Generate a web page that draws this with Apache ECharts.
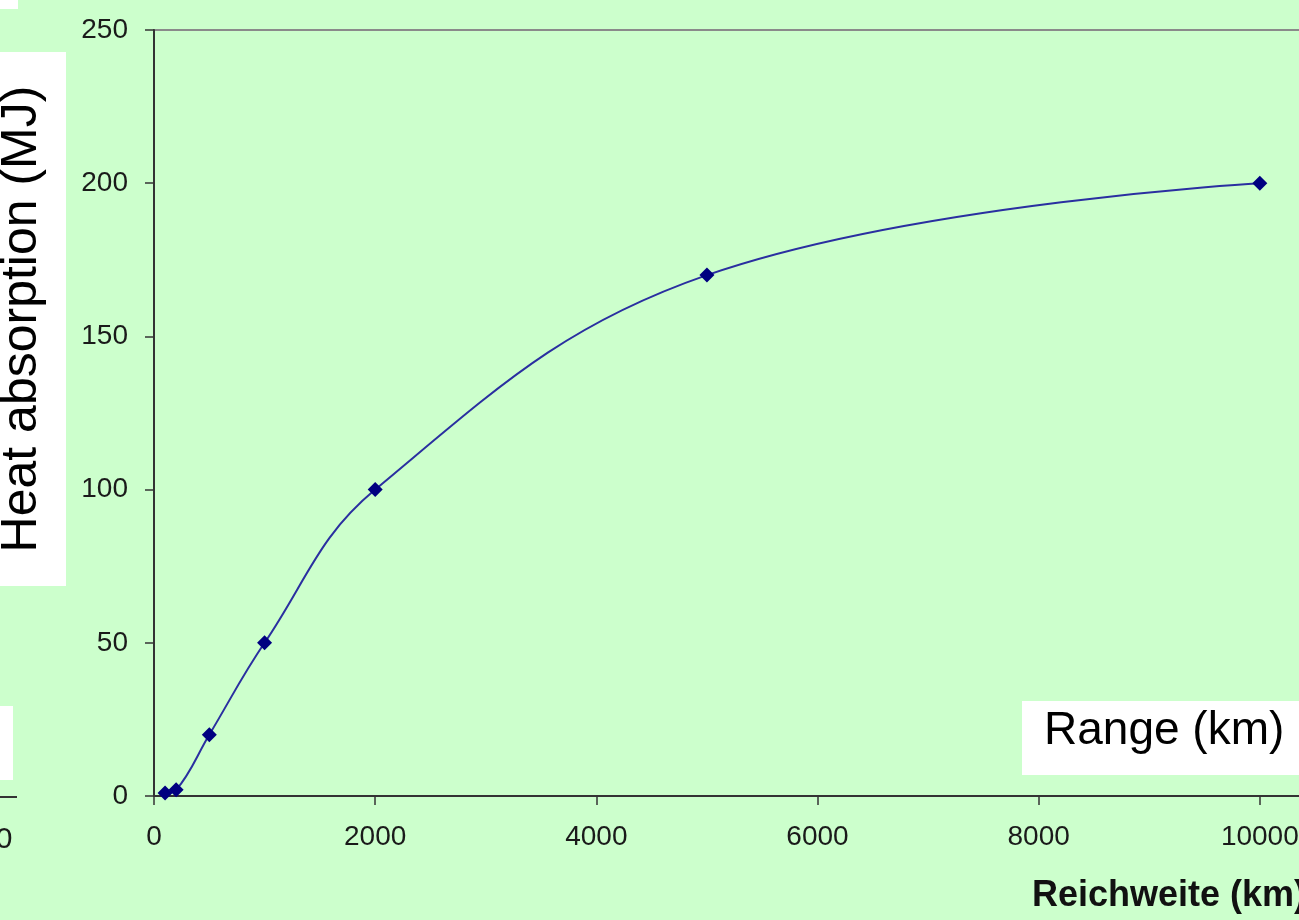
<!DOCTYPE html>
<html>
<head>
<meta charset="utf-8">
<title>Heat absorption vs range</title>
<script src="https://cdn.jsdelivr.net/npm/echarts@6/dist/echarts.min.js"></script>
<style>
  html, body { margin: 0; padding: 0; background: #CCFFCC; }
  #chart { width: 1299px; height: 920px; }
</style>
</head>
<body>
<div id="chart"></div>
<script>
// Range (km) and heat absorbed (MJ)
const rangeKm = [100, 200, 500, 1000, 2000, 5000, 10000];
const heatMJ = [1, 2, 20, 50, 100, 170, 200];

const yTicks = [0, 50, 100, 150, 200, 250];
const xTicks = [0, 2000, 4000, 6000, 8000, 10000, 12000];

const yTitle = 'Heat absorption (MJ)';
const xTitleEn = 'Range (km)';
const xTitleDe = 'Reichweite (km)';

const points = rangeKm.map((x, i) => [x, heatMJ[i]]);
const FONT = '"Liberation Sans", Arial, sans-serif';

const chart = echarts.init(document.getElementById('chart'), null, { renderer: 'canvas' });

chart.setOption({
  backgroundColor: '#CCFFCC',
  animation: false,
  grid: {
    left: 154, top: 30, bottom: 124, right: -182,
    containLabel: false, outerBoundsMode: 'none',
    show: true, backgroundColor: 'transparent',
    borderColor: '#8a8a8a', borderWidth: 2
  },
  xAxis: {
    type: 'value',
    min: xTicks[0], max: xTicks[xTicks.length - 1], interval: 2000,
    axisLine: { show: true, onZero: false, lineStyle: { color: '#333333', width: 2 } },
    axisTick: { show: true, length: 9, lineStyle: { color: '#333333', width: 1.5 } },
    axisLabel: { margin: 27, fontSize: 28, color: '#1a1a1a', fontFamily: FONT,
      formatter: v => String(v) },
    splitLine: { show: false }
  },
  yAxis: {
    type: 'value',
    min: yTicks[0], max: yTicks[yTicks.length - 1], interval: 50,
    axisLine: { show: true, lineStyle: { color: '#333333', width: 2 } },
    axisTick: { show: true, length: 9, lineStyle: { color: '#333333', width: 1.5 } },
    axisLabel: { margin: 26, fontSize: 28, color: '#1a1a1a', fontFamily: FONT,
      formatter: v => String(v) },
    splitLine: { show: false }
  },
  series: [{
    type: 'line',
    data: points,
    smooth: 0.4,
    symbol: 'diamond',
    symbolSize: 15,
    showAllSymbol: true,
    lineStyle: { color: '#2a2fa0', width: 2 },
    itemStyle: { color: '#000080' },
    z: 3
  }],
  graphic: [
    // leftover slide fragments along the left edge
    { type: 'rect', left: 0, top: 0, shape: { width: 18, height: 9 }, style: { fill: '#ffffff' } },
    { type: 'rect', left: 0, top: 706, shape: { width: 13, height: 74 }, style: { fill: '#ffffff' } },
    { type: 'line', shape: { x1: 0, y1: 797, x2: 17, y2: 797 }, style: { stroke: '#333333', lineWidth: 2 } },
    { type: 'text', x: 4, y: 840, style: { text: '0', font: '30px ' + FONT, fill: '#1a1a1a', textAlign: 'center', textVerticalAlign: 'middle' } },
    { type: 'text', x: -6, y: 893, style: { text: ')', font: 'bold 33px ' + FONT, fill: '#000000', textAlign: 'center', textVerticalAlign: 'middle' } },
    // y axis title in a white box
    { type: 'rect', left: 0, top: 52, shape: { width: 66, height: 534 }, style: { fill: '#ffffff' } },
    { type: 'text', x: 22, y: 319, rotation: Math.PI / 2,
      style: { text: yTitle, font: '50px ' + FONT, fill: '#000000', textAlign: 'center', textVerticalAlign: 'middle' } },
    // English x axis title in a white box
    { type: 'rect', left: 1022, top: 701, shape: { width: 300, height: 74 }, style: { fill: '#ffffff' } },
    { type: 'text', x: 1044, y: 731,
      style: { text: xTitleEn, font: '46px ' + FONT, fill: '#000000', textAlign: 'left', textVerticalAlign: 'middle' } },
    // German x axis title
    { type: 'text', x: 1032, y: 896,
      style: { text: xTitleDe, font: 'bold 36px ' + FONT, fill: '#111111', textAlign: 'left', textVerticalAlign: 'middle' } }
  ]
});
</script>
</body>
</html>
